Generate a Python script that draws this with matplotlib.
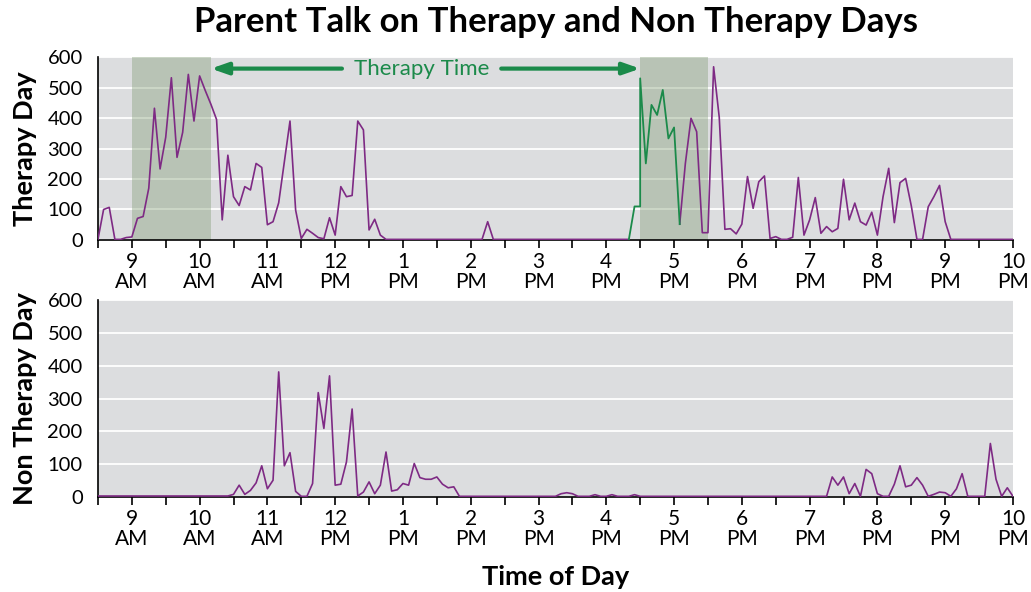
import matplotlib
matplotlib.use("Agg")
import matplotlib.pyplot as plt
import numpy as np
import pandas as pd

plt.rcParams['font.family'] = ['Lato', 'DejaVu Sans']

# 5-minute bins, 8:30 AM to 10:00 PM
times = pd.date_range("2020-01-01 08:30", "2020-01-01 22:00", freq="5min")
nan = np.nan

# Therapy day, outside therapy time (purple)
therapy_day = (
    [2, 100, 107, 2, 2, 8]                                             # 8:30-8:55
    + [10, 71, 77, 170, 432, 233, 337, 532, 271, 353, 543, 390]        # 9
    + [538, 490, 445, 395, 66, 278, 142, 113, 175, 164, 251, 238]      # 10
    + [50, 60, 122, 257, 390, 98, 5, 35, 22, 8, 4, 73]                 # 11
    + [16, 175, 142, 146, 390, 361, 33, 68, 16, 2, 2, 2]               # 12
    + [2] * 12                                                         # 13
    + [2, 2, 2, 60, 2, 2, 2, 2, 2, 2, 2, 2]                            # 14
    + [2] * 12                                                         # 15
    + [2, 2, 2, 2, 2, nan, nan, nan, nan, nan, nan, nan]               # 16
    + [nan, 52, 251, 399, 355, 24, 24, 568, 402, 35, 37, 20]           # 17
    + [52, 208, 104, 191, 210, 5, 11, 2, 2, 9, 205, 16]                # 18
    + [66, 139, 22, 44, 27, 38, 199, 66, 121, 60, 49, 91]              # 19
    + [16, 142, 235, 57, 188, 202, 112, 2, 2, 109, 142, 179]           # 20
    + [60, 2, 2, 2, 2, 2, 2, 2, 2, 2, 2, 2]                            # 21
    + [2]                                                              # 22:00
)

# Therapy day, during the afternoon therapy session (green)
session_times = ["16:20", "16:25", "16:30", "16:30", "16:35", "16:40", "16:45",
                 "16:50", "16:55", "17:00", "17:05"]
session_vals = [2, 110, 110, 530, 251, 443, 410, 492, 333, 369, 52]

# Non therapy day
non_therapy_day = (
    [3] * 6
    + [3] * 12
    + [3, 3, 3, 3, 3, 3, 8, 36, 8, 20, 43, 95]
    + [25, 51, 381, 95, 135, 17, 2, 2, 41, 318, 209, 369]
    + [36, 39, 107, 268, 3, 15, 46, 10, 36, 137, 18, 22]
    + [41, 36, 102, 59, 54, 54, 61, 39, 28, 31, 2, 2]
    + [2] * 12
    + [2, 2, 2, 2, 10, 13, 10, 2, 2, 2, 7, 2]
    + [2, 7, 2, 2, 2, 7, 2, 2, 2, 2, 2, 2]
    + [2] * 12
    + [2] * 12
    + [2, 2, 2, 2, 61, 36, 61, 10, 41, 2, 84, 71]
    + [10, 2, 2, 39, 95, 31, 36, 59, 36, 2, 8, 15]
    + [13, 2, 25, 71, 2, 2, 2, 2, 163, 54, 2, 28]
    + [2]
)

therapy_bands = [("09:00", "10:10"), ("16:30", "17:30")]
hour_labels = ["9\nAM", "10\nAM", "11\nAM", "12\nPM", "1\nPM", "2\nPM", "3\nPM",
               "4\nPM", "5\nPM", "6\nPM", "7\nPM", "8\nPM", "9\nPM", "10\nPM"]

PURPLE = '#7e2a84'
GREEN = '#1b8a4a'
BG = '#dcdddf'


def hrs(t):
    if isinstance(t, str):
        h, m = t.split(":")
        return int(h) + int(m) / 60
    return t.hour + t.minute / 60


x = np.array([hrs(t) for t in times])
xs = np.array([hrs(t) for t in session_times])

fig = plt.figure(figsize=(10.31, 5.92), dpi=100)
ax1 = fig.add_axes([0.095, 0.5946, 0.8875, 0.3091])
ax2 = fig.add_axes([0.095, 0.1605, 0.8875, 0.3327])


def style(ax):
    ax.set_facecolor(BG)
    ax.set_xlim(8.5, 22)
    ax.set_ylim(0, 600)
    ax.set_yticks(range(0, 601, 100))
    ax.grid(axis='y', color='white', linewidth=1.3)
    ax.set_axisbelow(True)
    for s in ['top', 'right']:
        ax.spines[s].set_visible(False)
    ax.spines['left'].set_linewidth(1.2)
    ax.spines['bottom'].set_linewidth(1.2)
    ax.set_xticks(np.arange(9, 23))
    ax.set_xticklabels(hour_labels, linespacing=1.0)
    ax.set_xticks(np.arange(8.5, 22.1, 1), minor=True)
    ax.tick_params(axis='x', which='both', length=6, width=1.2, direction='out',
                   labelsize=15, pad=3)
    ax.tick_params(axis='y', length=0, labelsize=14.5, pad=11)


style(ax1)
style(ax2)

for start, end in therapy_bands:
    ax1.axvspan(hrs(start), hrs(end), color='#7b976d', alpha=0.37, lw=0, zorder=1)

ax1.plot(x, therapy_day, color=PURPLE, lw=1.2, zorder=3)
ax1.plot(xs, session_vals, color=GREEN, lw=1.3, zorder=3)
ax2.plot(x, non_therapy_day, color=PURPLE, lw=1.2, zorder=3)

# Therapy time arrow
arrow_y = 562
ax1.text(13.27, arrow_y, "Therapy Time", color=GREEN, fontsize=16,
         ha='center', va='center', zorder=5)
head = '-|>,head_length=1.0,head_width=0.35'
ax1.annotate('', xy=(hrs("10:10"), arrow_y), xytext=(12.1, arrow_y),
             arrowprops=dict(arrowstyle=head, color=GREEN, lw=3,
                             shrinkA=0, shrinkB=0), zorder=5)
ax1.annotate('', xy=(hrs("16:30"), arrow_y), xytext=(14.45, arrow_y),
             arrowprops=dict(arrowstyle=head, color=GREEN, lw=3,
                             shrinkA=0, shrinkB=0), zorder=5)

ax1.set_ylabel("Therapy Day", fontsize=19.5, fontweight='bold')
ax2.set_ylabel("Non Therapy Day", fontsize=19.5, fontweight='bold')
ax1.yaxis.set_label_coords(-0.067, 0.5)
ax2.yaxis.set_label_coords(-0.067, 0.5)

fig.text(0.539, 0.962, "Parent Talk on Therapy and Non Therapy Days",
         fontsize=25, fontweight='bold', ha='center', va='center')
fig.text(0.539, 0.025, "Time of Day", fontsize=19.5, fontweight='bold',
         ha='center', va='center')

fig.savefig("out.png", dpi=100)
